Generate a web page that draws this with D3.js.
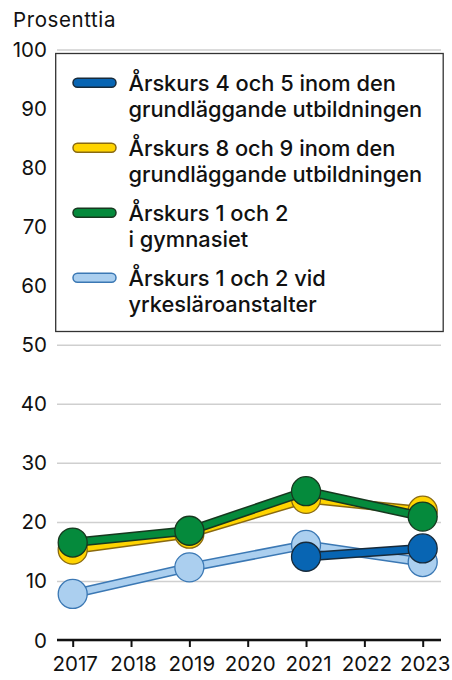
<!DOCTYPE html>
<html>
<head>
<meta charset="utf-8">
<script src="https://cdn.jsdelivr.net/npm/d3@7"></script>
<style>
  body { margin: 0; background: #fff; }
  svg text { font-family: Inter, "Noto Sans", sans-serif; fill: #111; }
</style>
</head>
<body>
<div id="chart"></div>
<script>
var years = [2017, 2018, 2019, 2020, 2021, 2022, 2023];
var yTicks = [0, 10, 20, 30, 40, 50, 60, 70, 80, 90, 100];

// series values (null = no data)
var grade45 = [null, null, null, null, 14.1, null, 15.5];
var grade89 = [15.3, null, 18.0, null, 23.9, null, 21.9];
var upper12 = [16.5, null, 18.5, null, 25.2, null, 20.9];
var vocational12 = [7.8, null, 12.3, null, 16.1, null, 13.2];

var seriesNames = [
  ["Årskurs 4 och 5 inom den", "grundläggande utbildningen"],
  ["Årskurs 8 och 9 inom den", "grundläggande utbildningen"],
  ["Årskurs 1 och 2", "i gymnasiet"],
  ["Årskurs 1 och 2 vid", "yrkesläroanstalter"]
];
var fillColors = ["#0865b3", "#ffd400", "#058a3c", "#abcfef"];
var edgeColors = ["#172a3a", "#8a6a10", "#17381f", "#3b78b4"];
var seriesValues = [grade45, grade89, upper12, vocational12];
var drawOrder = [3, 1, 2, 0];

var width = 452, height = 680;
var margin = {top: 49.5, right: 11, bottom: 40, left: 57};

var svg = d3.select("#chart").append("svg")
  .attr("width", width)
  .attr("height", height);

var x = d3.scalePoint()
  .domain(years)
  .range([72.7, 422.7]);

var y = d3.scaleLinear()
  .domain([0, 100])
  .range([height - margin.bottom, margin.top]);

// y label
svg.append("text")
  .attr("x", 13)
  .attr("y", 26.7)
  .style("font-size", "20.5px")
  .style("letter-spacing", "0.6px")
  .text("Prosenttia");

// grid
var grid = svg.append("g")
  .attr("transform", "translate(" + margin.left + ",0)")
  .call(d3.axisLeft(y).tickValues(yTicks).tickSize(-(width - margin.left - margin.right)).tickFormat(""));
grid.select(".domain").remove();
grid.selectAll("line")
  .attr("stroke", "#cfcfcf")
  .attr("stroke-width", 1.5);

// y tick labels
svg.append("g").selectAll("text")
  .data(yTicks)
  .enter().append("text")
  .attr("x", 47)
  .attr("y", function(d) { return y(d) + 7.5; })
  .attr("text-anchor", "end")
  .style("font-size", "20.5px")
  .text(function(d) { return d; });

// x axis
var xAxis = svg.append("g")
  .attr("transform", "translate(0," + y(0) + ")")
  .call(d3.axisBottom(x).tickSize(7).tickPadding(9));
xAxis.select(".domain")
  .attr("d", "M" + margin.left + ",0H" + (width - margin.right))
  .attr("stroke", "#111")
  .attr("stroke-width", 2.5);
xAxis.selectAll(".tick line")
  .attr("stroke", "#111")
  .attr("stroke-width", 2);
xAxis.selectAll(".tick text")
  .attr("dx", 2)
  .style("font-size", "20.5px")
  .style("font-family", "Inter, 'Noto Sans', sans-serif")
  .attr("fill", "#111");

// lines + markers
var line = d3.line()
  .defined(function(d) { return d.v != null; })
  .x(function(d) { return x(d.year); })
  .y(function(d) { return y(d.v); });

drawOrder.forEach(function(i) {
  var pts = years.map(function(yr, k) { return {year: yr, v: seriesValues[i][k]}; })
    .filter(function(d) { return d.v != null; });
  var g = svg.append("g");
  g.append("path")
    .datum(pts)
    .attr("d", line)
    .attr("fill", "none")
    .attr("stroke", edgeColors[i])
    .attr("stroke-width", 9.5)
    .attr("stroke-linejoin", "round");
  g.append("path")
    .datum(pts)
    .attr("d", line)
    .attr("fill", "none")
    .attr("stroke", fillColors[i])
    .attr("stroke-width", 6.5)
    .attr("stroke-linejoin", "round");
  g.selectAll("circle")
    .data(pts)
    .enter().append("circle")
    .attr("cx", function(d) { return x(d.year); })
    .attr("cy", function(d) { return y(d.v); })
    .attr("r", 14.5)
    .attr("fill", fillColors[i])
    .attr("stroke", edgeColors[i])
    .attr("stroke-width", 1.3);
});

// legend
var legend = svg.append("g");
legend.append("rect")
  .attr("x", 55.7)
  .attr("y", 53.5)
  .attr("width", 387.5)
  .attr("height", 278)
  .attr("fill", "#fff")
  .attr("stroke", "#333")
  .attr("stroke-width", 1.3);

var item = legend.selectAll(".item")
  .data(seriesNames)
  .enter().append("g")
  .attr("class", "item")
  .attr("transform", function(d, i) { return "translate(0," + (82.7 + i * 65) + ")"; });

item.append("rect")
  .attr("x", 73)
  .attr("y", -4.5)
  .attr("width", 43)
  .attr("height", 9)
  .attr("rx", 4.5)
  .attr("fill", function(d, i) { return fillColors[i]; })
  .attr("stroke", function(d, i) { return edgeColors[i]; })
  .attr("stroke-width", 1.5);

item.append("text")
  .attr("x", 128.5)
  .attr("y", 8)
  .style("font-size", "21.8px")
  .style("font-weight", 500)
  .selectAll("tspan")
  .data(function(d) { return d; })
  .enter().append("tspan")
  .attr("x", 128.5)
  .attr("dy", function(d, k) { return k === 0 ? 0 : 26.5; })
  .text(function(d) { return d; });
</script>
</body>
</html>
